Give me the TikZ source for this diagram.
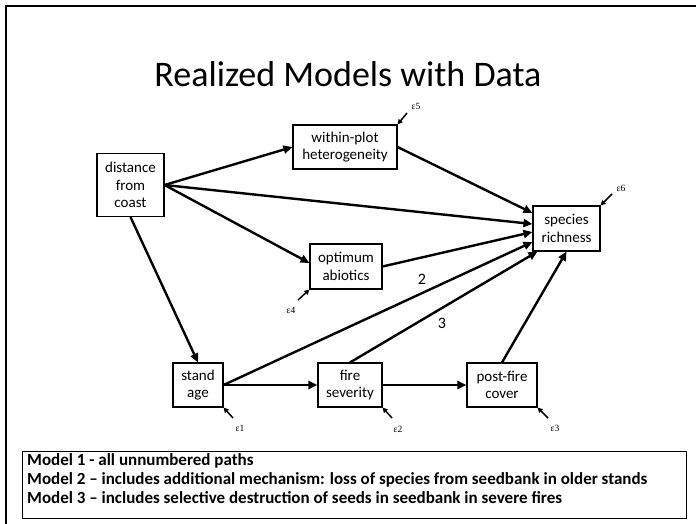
\documentclass[tikz,border=0pt]{standalone}
\usepackage{fontspec}
\setmainfont{Carlito}
\newfontfamily\errfont{Liberation Serif}
\usetikzlibrary{arrows.meta,calc}
\tikzset{
  var/.style={draw=black, line width=1.1pt, fill=white, align=center,
    inner sep=0pt, font=\fontsize{15}{17.5}\selectfont},
  path/.style={line width=2.4pt, -{Triangle[length=9pt,width=8pt]}},
  errpath/.style={line width=1.5pt, -{Triangle[length=5pt,width=5pt]}},
  errlab/.style={font=\errfont\fontsize{9.5}{9.5}\selectfont, inner sep=0pt},
  numlab/.style={font=\fontsize{16}{16}\selectfont, inner sep=0pt}
}
\begin{document}
\begin{tikzpicture}[x=1pt,y=-1pt]
\useasboundingbox (0,0) rectangle (696,524);
% slide frame
\draw[line width=2pt] (6,524) -- (6,6) -- (696,6);
% title
\node[font=\fontsize{36}{36}\selectfont, inner sep=0pt] (title) at (348,74) {Realized Models with Data};

% variables
\node[var, minimum width=67pt, minimum height=63pt] (dist) at (130.5,185) {distance\\from\\coast};
\node[var, minimum width=104pt, minimum height=44pt] (within) at (345,147) {within-plot\\heterogeneity};
\node[var, minimum width=67pt, minimum height=45pt] (rich) at (566.5,228.5) {species\\richness};
\node[var, minimum width=72pt, minimum height=45pt] (optim) at (346,266.5) {optimum\\abiotics};
\node[var, minimum width=50pt, minimum height=44pt] (stand) at (198,385) {stand\\age};
\node[var, minimum width=64pt, minimum height=44pt] (fire) at (350,385) {fire\\severity};
\node[var, minimum width=70pt, minimum height=44pt] (post) at (502,385) {post-fire\\cover};

% paths
\draw[path] (dist.east) -- (within.west);
\draw[path] (dist.east) -- ([yshift=4.5pt]rich.west);
\draw[path] (dist.east) -- ([yshift=3.5pt]optim.west);
\draw[path] (dist.south) -- (stand.north);
\draw[path] (within.east) -- ([yshift=15.5pt]rich.west);
\draw[path] (optim.east) -- ([yshift=-3.5pt]rich.west);
\draw[path] (stand.east) -- ([yshift=-13.5pt]rich.west);
\draw[path] (fire.north) -- ([xshift=5pt]rich.south west);
\draw[path] (post.north) -- (rich.south);
\draw[path] (stand.east) -- (fire.west);
\draw[path] (fire.east) -- (post.west);

% path numbers
\node[numlab] (n2) at (422,279) {2};
\node[numlab] (n3) at (442,323) {3};

% error terms
\node[errlab] (e5) at (416,106) {ε5};
\coordinate (t5) at (407,113);
\draw[errpath] (t5) -- (within.north east);
\node[errlab] (e6) at (621,188) {ε6};
\coordinate (t6) at (612,194);
\draw[errpath] (t6) -- (rich.north east);
\node[errlab] (e4) at (291,310) {ε4};
\coordinate (t4) at (298,300);
\draw[errpath] (t4) -- (optim.south west);
\node[errlab] (e1) at (240,428) {ε1};
\coordinate (t1) at (233,418);
\draw[errpath] (t1) -- (stand.south east);
\node[errlab] (e2) at (398,429) {ε2};
\coordinate (t2) at (392,418);
\draw[errpath] (t2) -- (fire.south east);
\node[errlab] (e3) at (555,428) {ε3};
\coordinate (t3) at (548,418);
\draw[errpath] (t3) -- (post.south east);

% model legend
\draw[line width=1pt] (22,451) rectangle (686,518);
\node[anchor=north west, align=left, inner sep=0pt,
  font=\bfseries\fontsize{17}{19}\selectfont] (legend) at (27,453)
  {Model 1 - all unnumbered paths\\
   Model 2 – includes additional mechanism: loss of species from seedbank in older stands\\
   Model 3 – includes selective destruction of seeds in seedbank in severe fires};
\end{tikzpicture}
\end{document}
